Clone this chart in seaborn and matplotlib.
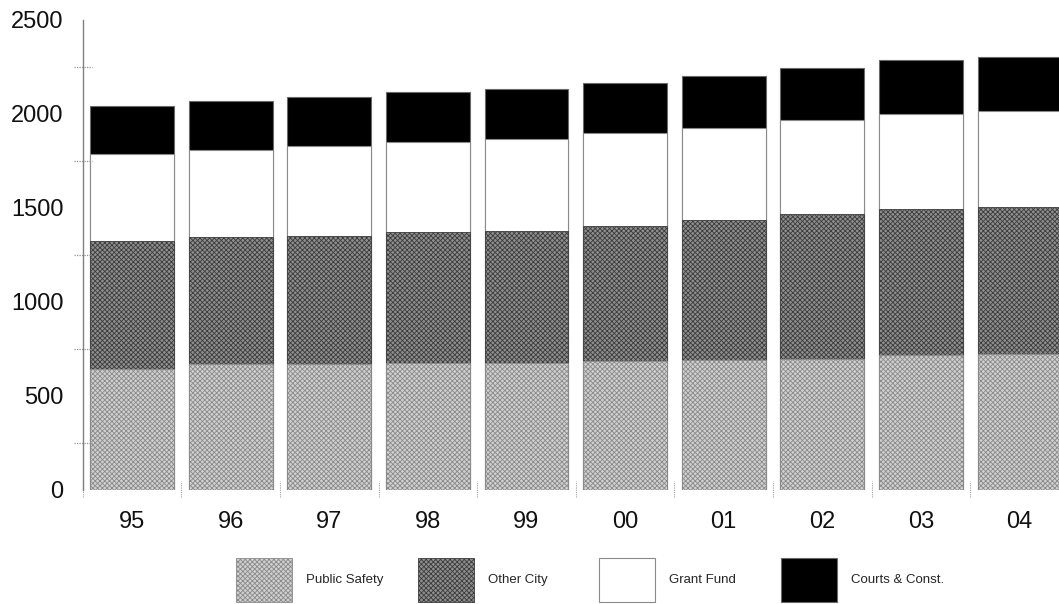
import matplotlib
matplotlib.use("Agg")
import matplotlib.pyplot as plt
import matplotlib.transforms as mtransforms
from matplotlib.patches import Patch
import numpy as np
import pandas as pd
import seaborn as sns

years = ["95", "96", "97", "98", "99", "00", "01", "02", "03", "04"]
public_safety = [644, 668, 670, 674, 675, 684, 691, 695, 718, 723]
other_city = [679, 676, 681, 697, 703, 720, 745, 771, 778, 782]
grant_fund = [463, 463, 477, 478, 487, 493, 491, 500, 504, 509]
courts_const = [258, 260, 264, 266, 270, 270, 277, 280, 289, 287]
series_names = ["Public Safety", "Other City", "Grant Fund", "Courts & Const."]
y_ticks = [0, 500, 1000, 1500, 2000, 2500]

sns.set_theme(style="white")
plt.rcParams["font.family"] = ["Liberation Sans", "DejaVu Sans"]
plt.rcParams["hatch.linewidth"] = 0.6

df = pd.DataFrame({
    "year": years,
    "ps": public_safety,
    "oc": other_city,
    "gf": grant_fund,
    "cc": courts_const,
})
df["c1"] = df["ps"]
df["c2"] = df["c1"] + df["oc"]
df["c3"] = df["c2"] + df["gf"]
df["c4"] = df["c3"] + df["cc"]

fig = plt.figure(figsize=(10.59, 6.04), dpi=100)
ax = fig.add_axes([83 / 1059, (604 - 490) / 604, 1 - 83 / 1059, (490 - 20) / 604])

ps_style = dict(color="#d0d0d0", edgecolor="#8a8a8a", linewidth=0.6, hatch="xxxxxxx")
oc_style = dict(color="#8e8e8e", edgecolor="#3c3c3c", linewidth=0.6, hatch="xxxxxxx")
gf_style = dict(color="#ffffff", edgecolor="#8a8a8a", linewidth=0.8)
cc_style = dict(color="#000000", edgecolor="#6a6a6a", linewidth=0.8)

for col, kw in [("c4", cc_style), ("c3", gf_style), ("c2", oc_style), ("c1", ps_style)]:
    sns.barplot(data=df, x="year", y=col, order=years, width=0.85, ax=ax,
                errorbar=None, saturation=1, **kw)

ax.set_xlim(-0.497, 9.40)
ax.set_ylim(0, 2500)
ax.set_yticks(y_ticks)
ax.set_yticklabels([str(v) for v in y_ticks])
ax.set_xlabel("")
ax.set_ylabel("")
for s in ["top", "right", "bottom"]:
    ax.spines[s].set_visible(False)
ax.spines["left"].set_color("#808080")
ax.spines["left"].set_linewidth(1.0)
ax.tick_params(axis="y", length=3, width=0.8, color="#909090", direction="in",
               pad=14, labelsize=17, labelcolor="#111111")
ax.tick_params(axis="x", length=0, pad=15, labelsize=17, labelcolor="#111111")

# dotted minor ticks crossing the axis
trans_y = mtransforms.blended_transform_factory(ax.transAxes, ax.transData)
for yv in [250, 750, 1250, 1750, 2250]:
    ax.plot([-0.009, 0.009], [yv, yv], transform=trans_y, ls=(0, (1, 1)),
            color="#909090", lw=0.9, clip_on=False)
# dotted separators between categories at baseline
trans_x = mtransforms.blended_transform_factory(ax.transData, ax.transAxes)
for i in range(len(years)):
    ax.plot([i - 0.5, i - 0.5], [-0.015, 0.02], transform=trans_x, ls=(0, (1, 1)),
            color="#a0a0a0", lw=0.8, clip_on=False)

# legend
legend_patches = [
    Patch(facecolor="#d0d0d0", edgecolor="#8a8a8a", hatch="xxxxxxx", linewidth=0.6),
    Patch(facecolor="#8e8e8e", edgecolor="#3c3c3c", hatch="xxxxxxx", linewidth=0.6),
    Patch(facecolor="#ffffff", edgecolor="#8a8a8a", linewidth=0.8),
    Patch(facecolor="#000000", edgecolor="#6a6a6a", linewidth=0.8),
]
x_lefts = [236, 418, 599, 781]
fs = 9.5
fs_px = fs * 100 / 72
for h, lab, xl in zip(legend_patches, series_names, x_lefts):
    fig.legend(handles=[h], labels=[lab], loc="center left",
               bbox_to_anchor=(xl / 1059, (604 - 580) / 604),
               frameon=False, fontsize=fs, borderpad=0, borderaxespad=0,
               handlelength=56 / fs_px, handleheight=45 / fs_px * 1.4,
               handletextpad=14 / fs_px)

fig.savefig("out.png", dpi=100)
